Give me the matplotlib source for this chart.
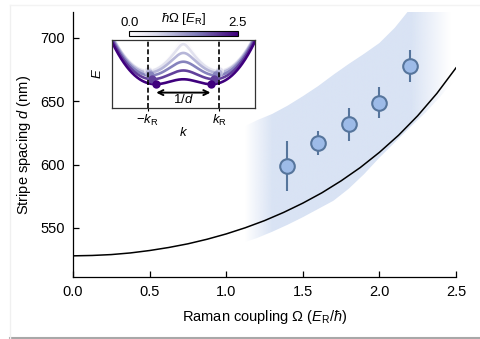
import numpy as np
import matplotlib
matplotlib.use("Agg")
import matplotlib.pyplot as plt
from matplotlib.colors import Normalize, to_rgb
from matplotlib.cm import ScalarMappable
from matplotlib.lines import Line2D

plt.rcParams['font.family'] = ['Liberation Sans', 'DejaVu Sans']
plt.rcParams['mathtext.fontset'] = 'custom'
plt.rcParams['mathtext.rm'] = 'Liberation Sans'
plt.rcParams['mathtext.it'] = 'Liberation Sans:italic'
plt.rcParams['mathtext.bf'] = 'Liberation Sans:bold'

# measured stripe spacing vs Raman coupling
omega_meas = [1.4, 1.6, 1.8, 2.0, 2.2]
d_meas = [599, 617, 632, 649, 678]
d_err = [20, 9.5, 13, 12, 12.5]

# single-particle prediction
omega_theory = [0.0, 0.125, 0.25, 0.375, 0.5, 0.625, 0.75, 0.875, 1.0, 1.125,
                1.25, 1.375, 1.5, 1.625, 1.75, 1.875, 2.0, 2.125, 2.25, 2.375, 2.5]
d_theory = [528.0, 528.3, 529.0, 530.3, 532.2, 534.6, 537.5, 541.1, 545.3, 550.2,
            555.8, 562.3, 569.6, 577.8, 587.2, 597.7, 609.7, 623.2, 638.6, 656.2, 676.4]

# range including interaction effects
omega_band = [1.1, 1.2, 1.3, 1.4, 1.5, 1.6, 1.7, 1.8, 1.9, 2.0, 2.1, 2.2, 2.3, 2.4, 2.5]
d_band_low = [538, 542, 547, 552.5, 558.5, 565, 571.5, 581, 592.5, 605.5, 617.5,
              629.5, 641, 654, 669]
d_band_high = [629, 635, 640, 646.5, 654, 662, 671, 679.5, 687.5, 696, 708, 723,
               740, 760, 782]

# inset: lower-band dispersion for several couplings
omega_inset = [0.0, 0.5, 1.0, 1.5, 2.0, 2.5]

x_ticks = [0.0, 0.5, 1.0, 1.5, 2.0, 2.5]
x_ticklabels = ['0.0', '0.5', '1.0', '1.5', '2.0', '2.5']
y_ticks = [550, 600, 650, 700]
y_ticklabels = ['550', '600', '650', '700']

W, H = 481, 339
fig = plt.figure(figsize=(W / 100, H / 100), dpi=100)
fig.patch.set_facecolor('white')

def px_box(x0, y0, x1, y1):
    return [x0 / W, 1 - y1 / H, (x1 - x0) / W, (y1 - y0) / H]

# faint card outline
fig.add_artist(Line2D([10 / W, 1], [1 - 338 / H] * 2, color='#a8a8a8', lw=1.5))
fig.add_artist(Line2D([10 / W] * 2, [1 - 338 / H, 1 - 5 / H], color='#f0f0f0', lw=1))
fig.add_artist(Line2D([10 / W, 1], [1 - 5 / H] * 2, color='#f3f3f3', lw=1))

ax = fig.add_axes(px_box(73, 12, 456, 277))

# shaded band with soft ends
band_rgb = to_rgb('#d9e3f4')
xs = np.linspace(1.05, 2.55, 400)
alpha = np.interp(xs, [1.12, 1.3, 2.2, 2.46], [0, 1, 1, 0])
img = np.zeros((2, len(xs), 4))
img[..., :3] = band_rgb
img[..., 3] = alpha
im = ax.imshow(img, extent=(1.05, 2.55, 500, 800), aspect='auto', origin='lower',
               zorder=1, interpolation='bilinear')
poly = ax.fill_between(omega_band, d_band_low, d_band_high, facecolor='none',
                       edgecolor='none')
im.set_clip_path(poly.get_paths()[0], transform=ax.transData)

ax.plot(omega_theory, d_theory, color='black', lw=1.1, zorder=2)
ax.errorbar(omega_meas, d_meas, yerr=d_err, fmt='o', ms=10.5, mfc='#9dbbe8',
            mec='#56759c', mew=1.5, ecolor='#56759c', elinewidth=1.5, capsize=0,
            zorder=3)

ax.set_xlim(0, 2.5)
ax.set_ylim(511.3, 720.5)
ax.set_xticks(x_ticks)
ax.set_xticklabels(x_ticklabels)
ax.set_yticks(y_ticks)
ax.set_yticklabels(y_ticklabels)
ax.tick_params(direction='in', length=4, width=0.9, labelsize=10.5, pad=6)
for s in ['top', 'right']:
    ax.spines[s].set_visible(False)
for s in ['left', 'bottom']:
    ax.spines[s].set_linewidth(0.9)
ax.set_xlabel(r'Raman coupling Ω ($E_{\rm R}$/$\hbar$)', fontsize=10.5, labelpad=6)
ax.set_ylabel(r'Stripe spacing $d$ (nm)', fontsize=10.5, labelpad=5)

# inset
axi = fig.add_axes(px_box(112, 40.3, 254.7, 107.7))
cmap = plt.get_cmap('Purples')
norm = Normalize(0, 2.5)
k = np.linspace(-2, 2, 500)
for om in omega_inset:
    E = k ** 2 + 1 - np.sqrt(4 * k ** 2 + (om / 2) ** 2)
    c = cmap(norm(om))
    axi.plot(k, E, color=c, lw=1.9, zorder=2)
    km = np.sqrt(1 - (om / 4) ** 2)
    Em = km ** 2 + 1 - np.sqrt(4 * km ** 2 + (om / 2) ** 2)
    axi.plot([-km, km], [Em, Em], 'o', color=c, ms=6, mec='none', zorder=3)

om = omega_inset[-1]
km = np.sqrt(1 - (om / 4) ** 2)
for kx in (-1, 1):
    axi.axvline(kx, color='black', lw=1.2, ls=(0, (3, 1.6)), zorder=4)
axi.annotate('', xy=(-km + 0.02, -0.63), xytext=(km - 0.02, -0.63),
             arrowprops=dict(arrowstyle='<->', lw=1.4, color='black',
                             shrinkA=0, shrinkB=0, mutation_scale=9))
axi.text(0, -0.82, r'$1/d$', ha='center', va='center', fontsize=9.5)
axi.set_xlim(-2, 2)
axi.set_ylim(-1.06, 0.86)
axi.set_xticks([-1, 1])
axi.set_xticklabels([r'$-k_{\rm R}$', r'$k_{\rm R}$'])
axi.set_yticks([])
axi.tick_params(direction='out', length=2, width=0.8, labelsize=9.5, pad=1.5)
axi.set_xlabel(r'$k$', fontsize=9.5, labelpad=-1)
axi.set_ylabel(r'$E$', fontsize=9.5, labelpad=6)
for s in axi.spines.values():
    s.set_linewidth(0.9)
    s.set_color('#333333')

# colour scale for the inset
cax = fig.add_axes(px_box(129.3, 31, 237.7, 36))
cb = fig.colorbar(ScalarMappable(norm=norm, cmap=cmap), cax=cax,
                  orientation='horizontal')
cb.outline.set_linewidth(0.8)
cax.xaxis.set_ticks_position('top')
cax.set_xticks([0, 2.5])
cax.set_xticklabels(['0.0', '2.5'])
cax.tick_params(length=0, labelsize=9.5, pad=1.5)
cax.annotate(r'$\hbar\Omega$ [$E_{\rm R}$]', xy=(0.5, 1), xycoords='axes fraction',
             xytext=(0, 3), textcoords='offset points', ha='center', va='bottom',
             fontsize=9.5)

fig.savefig('out.png', dpi=100, facecolor='white')
